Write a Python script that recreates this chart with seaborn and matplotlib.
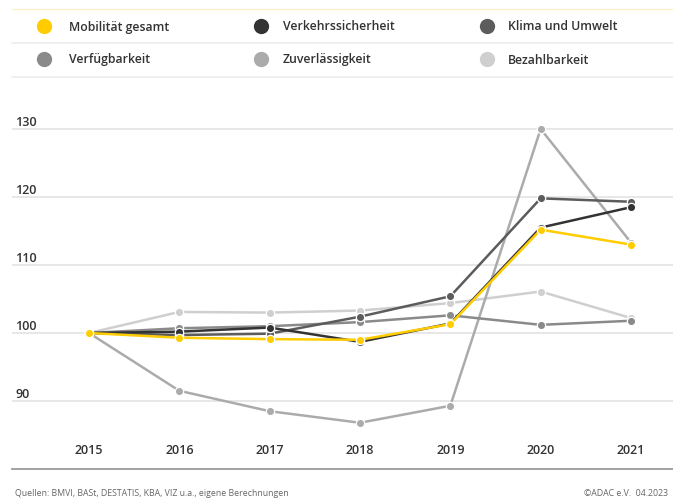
import matplotlib
matplotlib.use("Agg")
import matplotlib.pyplot as plt
import matplotlib.transforms as mtransforms
from matplotlib.lines import Line2D
import seaborn as sns
import pandas as pd

years = [2015, 2016, 2017, 2018, 2019, 2020, 2021]
mobilitaet = [100.0, 99.3, 99.1, 99.0, 101.3, 115.2, 113.0]
verkehrssicherheit = [100.0, 100.2, 100.8, 98.7, 101.4, 115.5, 118.5]
klima = [100.0, 99.7, 99.9, 102.4, 105.4, 119.8, 119.3]
verfuegbarkeit = [100.0, 100.7, 101.0, 101.6, 102.6, 101.2, 101.8]
zuverlaessigkeit = [100.0, 91.5, 88.5, 86.8, 89.3, 130.0, 113.3]
bezahlbarkeit = [100.0, 103.1, 103.0, 103.3, 104.4, 106.1, 102.2]

series_names = ["Mobilität gesamt", "Verkehrssicherheit", "Klima und Umwelt",
                "Verfügbarkeit", "Zuverlässigkeit", "Bezahlbarkeit"]
series_values = [mobilitaet, verkehrssicherheit, klima,
                 verfuegbarkeit, zuverlaessigkeit, bezahlbarkeit]
colors = ["#FFCC00", "#333333", "#5c5c5c", "#8a8a8a", "#ababab", "#cfcfcf"]
y_ticks = [90, 100, 110, 120, 130]
footer_left = "Quellen: BMVI, BASt, DESTATIS, KBA, VIZ u.a., eigene Berechnungen"
footer_right = "©ADAC e.V.  04.2023"

sns.set_theme(style="white")
plt.rcParams["font.family"] = ["Open Sans", "DejaVu Sans"]

rows = []
for name, vals in zip(series_names, series_values):
    for yr, v in zip(years, vals):
        rows.append({"Jahr": yr, "Index": v, "Reihe": name})
df = pd.DataFrame(rows)

W, H = 673, 502
fig = plt.figure(figsize=(W / 100, H / 100), dpi=100)
ax = fig.add_axes([12 / W, 1 - 470 / H, 1 - 12 / W, (470 - 100) / H])

palette = dict(zip(series_names, colors))
hue_order = series_names[::-1]
sns.lineplot(data=df, x="Jahr", y="Index", hue="Reihe", hue_order=hue_order,
             palette=palette, marker="o", markersize=6, markeredgecolor="white",
             markeredgewidth=0.9, linewidth=1.8, legend=False, ax=ax, zorder=3)

ax.set_xlim(2015 - 77 / 90.33, 2021 + 42 / 90.33)
ax.set_ylim(80, 100 + 234 / 6.8)

for v in y_ticks:
    ax.axhline(v, color="#e3e3e3", linewidth=1.2, zorder=1)
trans = mtransforms.blended_transform_factory(ax.transAxes, ax.transData)
offs = mtransforms.ScaledTranslation(0, 0.6 / 72, fig.dpi_scale_trans)
for v in y_ticks:
    ax.text(3 / 661, v, str(v), transform=trans + offs, ha="left", va="bottom",
            fontsize=9, fontweight="semibold", color="#333333")

ax.set_yticks([])
ax.set_xticks(years)
ax.set_xticklabels([str(y) for y in years], fontsize=9, fontweight="semibold",
                   color="#333333")
ax.tick_params(axis="x", length=0, pad=-19)
ax.set_xlabel("")
ax.set_ylabel("")
for s in ["top", "right", "left"]:
    ax.spines[s].set_visible(False)
ax.spines["bottom"].set_color("#9a9a9a")
ax.spines["bottom"].set_linewidth(1.3)
ax.set_facecolor("none")

# legend block
def fy(py):
    return 1 - py / H

fig.add_artist(Line2D([12 / W, 1], [fy(10), fy(10)], color="#fbf1c8", linewidth=1.0))
fig.add_artist(Line2D([12 / W, 1], [fy(44), fy(44)], color="#ececec", linewidth=1.2))
fig.add_artist(Line2D([12 / W, 1], [fy(78), fy(78)], color="#ececec", linewidth=1.2))

marker_x = [44, 261, 487]
text_x = [69, 283, 508]
row_y = [27, 60]
for i, (name, col) in enumerate(zip(series_names, colors)):
    r, c = divmod(i, 3)
    fig.add_artist(Line2D([marker_x[c] / W], [fy(row_y[r])], marker="o",
                          markersize=11, color=col, markeredgewidth=0,
                          linestyle="none"))
    fig.text(text_x[c] / W, fy(row_y[r]), name, ha="left", va="center",
             fontsize=8.8, fontweight="semibold", color="#333333")

fig.text(15 / W, fy(494), footer_left, ha="left", va="center", fontsize=6.3,
         color="#666666")
fig.text(668 / W, fy(494), footer_right, ha="right", va="center", fontsize=6.3,
         color="#666666")

fig.savefig("out.png", dpi=100)
